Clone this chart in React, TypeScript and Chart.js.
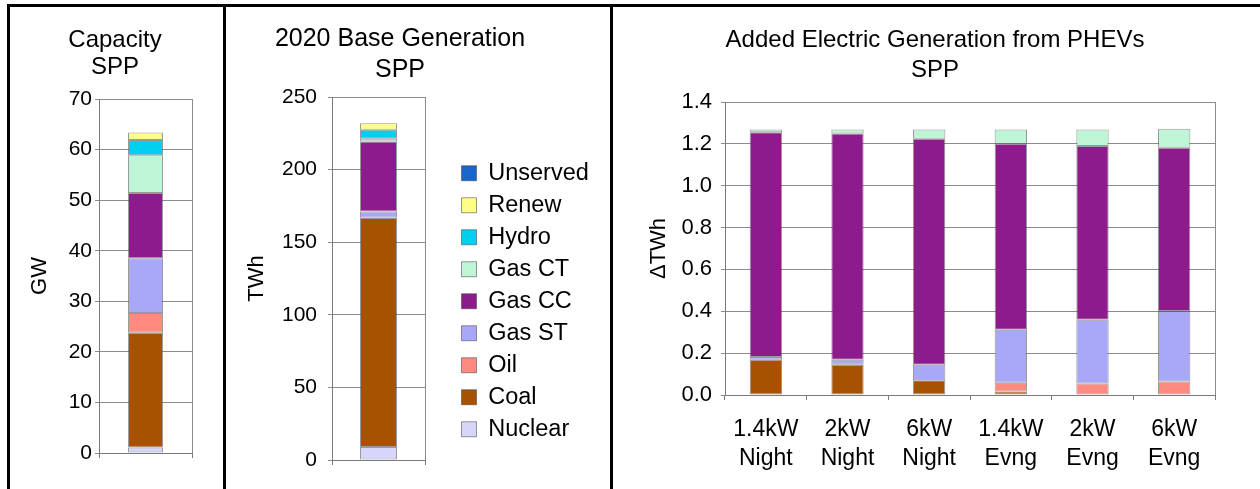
import React, { useEffect, useRef } from 'react';
import { Chart, registerables } from 'chart.js';

Chart.register(...registerables);

const FONT = '"Liberation Sans", Arial, Helvetica, sans-serif';

// Generation sources, bottom of the stack first
const SOURCES = ['Nuclear', 'Coal', 'Oil', 'Gas ST', 'Gas CC', 'Gas CT', 'Hydro', 'Renew', 'Unserved'];
const SOURCE_COLORS = ['#D6D6FA', '#A65200', '#FF8A80', '#A9A7F7', '#8E1B8C', '#BDF5D6', '#00D0F0', '#FFFF85', '#1666CC'];

// Panel 1: installed capacity (GW)
const CAPACITY_LABELS = [''];
const CAPACITY_GW = [1.1, 22.7, 3.9, 10.8, 12.9, 7.5, 3.0, 1.5, 0];
const CAPACITY_TICKS = { min: 0, max: 70, step: 10 };

// Panel 2: 2020 base generation (TWh)
const BASE_LABELS = [''];
const BASE_GEN_TWH = [9.0, 157.7, 0.3, 4.1, 48.2, 1.9, 6.2, 4.6, 0];
const BASE_TICKS = { min: 0, max: 250, step: 50 };

// Panel 3: added generation from PHEVs (delta TWh)
const PHEV_CASES = [['1.4kW', 'Night'], ['2kW', 'Night'], ['6kW', 'Night'], ['1.4kW', 'Evng'], ['2kW', 'Evng'], ['6kW', 'Evng']];
const PHEV_NUCLEAR = [0, 0, 0, 0, 0, 0];
const PHEV_COAL = [0.169, 0.144, 0.070, 0.017, 0, 0];
const PHEV_OIL = [0, 0, 0, 0.041, 0.055, 0.064];
const PHEV_GAS_ST = [0.013, 0.025, 0.074, 0.254, 0.305, 0.337];
const PHEV_GAS_CC = [1.074, 1.081, 1.081, 0.888, 0.830, 0.780];
const PHEV_GAS_CT = [0.013, 0.019, 0.044, 0.069, 0.079, 0.091];
const PHEV_HYDRO = [0, 0, 0, 0, 0, 0];
const PHEV_RENEW = [0, 0, 0, 0, 0, 0];
const PHEV_UNSERVED = [0, 0, 0, 0, 0, 0];
const PHEV_SERIES = [PHEV_NUCLEAR, PHEV_COAL, PHEV_OIL, PHEV_GAS_ST, PHEV_GAS_CC, PHEV_GAS_CT, PHEV_HYDRO, PHEV_RENEW, PHEV_UNSERVED];
const PHEV_TICKS = { min: 0, max: 1.4, step: 0.2 };

const GRID = '#8c8c8c';
const AXIS = '#7a7a7a';
const EDGE = 'rgba(70,70,70,0.55)';

const nz = (v: number) => (v === 0 ? null : v);

function datasetsFrom(values: number[][], barPct: number) {
  return SOURCES.map((name, i) => ({
    label: name,
    data: values[i].map(nz),
    backgroundColor: SOURCE_COLORS[i],
    borderColor: EDGE,
    borderWidth: 1,
    borderSkipped: false,
    barPercentage: barPct,
    categoryPercentage: 1,
  }));
}

const plotFrame = {
  id: 'plotFrame',
  beforeDatasetsDraw(chart: any) {
    const { ctx, chartArea: a } = chart;
    ctx.save();
    ctx.strokeStyle = GRID;
    ctx.lineWidth = 1;
    ctx.beginPath();
    const x = Math.round(a.right) + 0.5;
    ctx.moveTo(x, a.top);
    ctx.lineTo(x, a.bottom);
    ctx.stroke();
    ctx.restore();
  },
};

const placeLegend = (x: number, y: number) => ({
  id: 'placeLegend',
  afterLayout(chart: any) {
    const lg = chart.legend;
    if (!lg) return;
    const w = lg.width;
    const h = lg.height;
    lg.left = x;
    lg.right = x + w;
    lg.top = y;
    lg.bottom = y + h;
  },
});

type PanelSpec = {
  labels: any[];
  datasets: any[];
  title: string[];
  titleSize: number;
  titleLH: number;
  titlePad: { top: number; bottom: number };
  padL: number;
  padR: number;
  yWidth: number;
  xHeight: number;
  ticks: { min: number; max: number; step: number };
  decimals: number;
  yTitle: string;
  yTitlePad: number;
  tickPad: number;
  tickSize: number;
  showX: boolean;
  xTickPad: number;
  legend?: { x: number; y: number; maxWidth: number };
};

function makeConfig(p: PanelSpec): any {
  const plugins: any[] = [plotFrame];
  if (p.legend) plugins.push(placeLegend(p.legend.x, p.legend.y));
  return {
    type: 'bar',
    data: { labels: p.labels, datasets: p.datasets },
    plugins,
    options: {
      responsive: false,
      animation: false,
      devicePixelRatio: 1,
      layout: { padding: { left: p.padL, right: p.padR, top: 0, bottom: 0 } },
      plugins: {
        tooltip: { enabled: false },
        title: {
          display: true,
          text: p.title,
          color: '#000',
          font: { family: FONT, size: p.titleSize, weight: 'normal', lineHeight: p.titleLH },
          padding: p.titlePad,
        },
        legend: p.legend
          ? {
              display: true,
              position: 'right',
              align: 'start',
              reverse: true,
              maxWidth: p.legend.maxWidth,
              labels: {
                color: '#000',
                boxWidth: 15,
                boxHeight: 15,
                padding: 8.5,
                font: { family: FONT, size: 23.5 },
              },
            }
          : { display: false },
      },
      scales: {
        x: {
          stacked: true,
          grid: { drawOnChartArea: false, drawTicks: true, tickLength: 5, color: AXIS, offset: true },
          border: { color: AXIS },
          ticks: {
            display: p.showX,
            color: '#000',
            padding: p.xTickPad,
            maxRotation: 0,
            autoSkip: false,
            font: { family: FONT, size: 23, lineHeight: 1.26 },
          },
          afterFit: (s: any) => {
            s.height = p.xHeight;
          },
        },
        y: {
          stacked: true,
          min: p.ticks.min,
          max: p.ticks.max,
          grid: { color: GRID, tickLength: 4 },
          border: { color: AXIS },
          ticks: {
            stepSize: p.ticks.step,
            color: '#000',
            padding: p.tickPad,
            font: { family: FONT, size: p.tickSize },
            callback: (v: any) => Number(v).toFixed(p.decimals),
          },
          title: {
            display: true,
            text: p.yTitle,
            color: '#000',
            font: { family: FONT, size: 22, lineHeight: 1.2 },
            padding: { top: p.yTitlePad, bottom: 0 },
          },
          afterFit: (s: any) => {
            s.width = p.yWidth;
          },
        },
      },
    },
  };
}

function ChartCanvas(props: { left: number; top: number; width: number; height: number; spec: () => PanelSpec }) {
  const ref = useRef<HTMLCanvasElement>(null);
  useEffect(() => {
    if (!ref.current) return;
    const chart = new Chart(ref.current, makeConfig(props.spec()));
    return () => chart.destroy();
  }, []);
  return (
    <canvas
      ref={ref}
      width={props.width}
      height={props.height}
      style={{ position: 'absolute', left: props.left, top: props.top, width: props.width, height: props.height }}
    />
  );
}

const capacitySpec = (): PanelSpec => ({
  labels: CAPACITY_LABELS,
  datasets: datasetsFrom(CAPACITY_GW.map((v) => [v]), 0.376),
  title: ['Capacity', 'SPP'],
  titleSize: 24,
  titleLH: 1.125,
  titlePad: { top: 19.5, bottom: 18.5 },
  padL: 28,
  padR: 31,
  yWidth: 61,
  xHeight: 36,
  ticks: CAPACITY_TICKS,
  decimals: 0,
  yTitle: 'GW',
  yTitlePad: -11,
  tickPad: 3,
  tickSize: 21,
  showX: false,
  xTickPad: 0,
});

const baseSpec = (): PanelSpec => ({
  labels: BASE_LABELS,
  datasets: datasetsFrom(BASE_GEN_TWH.map((v) => [v]), 0.398),
  title: ['2020 Base Generation', 'SPP'],
  titleSize: 25,
  titleLH: 1.24,
  titlePad: { top: 16.5, bottom: 11.5 },
  padL: 9,
  padR: 46,
  yWidth: 97,
  xHeight: 29,
  ticks: BASE_TICKS,
  decimals: 0,
  yTitle: 'TWh',
  yTitlePad: 9,
  tickPad: 11,
  tickSize: 21,
  showX: false,
  xTickPad: 0,
  legend: { x: 227, y: 146, maxWidth: 140 },
});

const phevSpec = (): PanelSpec => ({
  labels: PHEV_CASES,
  datasets: datasetsFrom(PHEV_SERIES, 0.396),
  title: ['Added Electric Generation from PHEVs', 'SPP'],
  titleSize: 24,
  titleLH: 1.25,
  titlePad: { top: 18, bottom: 17 },
  padL: 42,
  padR: 45,
  yWidth: 70,
  xHeight: 94,
  ticks: PHEV_TICKS,
  decimals: 1,
  yTitle: '\u0394TWh',
  yTitlePad: -9,
  tickPad: 9,
  tickSize: 22,
  showX: true,
  xTickPad: 15.5,
});

export default function App() {
  const line = (l: number, t: number, w: number, h: number) => (
    <div style={{ position: 'absolute', left: l, top: t, width: w, height: h, background: '#000' }} />
  );
  return (
    <div style={{ position: 'fixed', left: 0, top: 0, width: 1260, height: 489, background: '#fff', overflow: 'hidden' }}>
      <ChartCanvas left={10} top={7} width={213} height={482} spec={capacitySpec} />
      <ChartCanvas left={226} top={7} width={385} height={482} spec={baseSpec} />
      <ChartCanvas left={613} top={7} width={647} height={482} spec={phevSpec} />
      {line(7, 4, 1253, 3)}
      {line(7, 4, 3, 485)}
      {line(223, 4, 3, 485)}
      {line(610, 4, 3, 485)}
    </div>
  );
}
